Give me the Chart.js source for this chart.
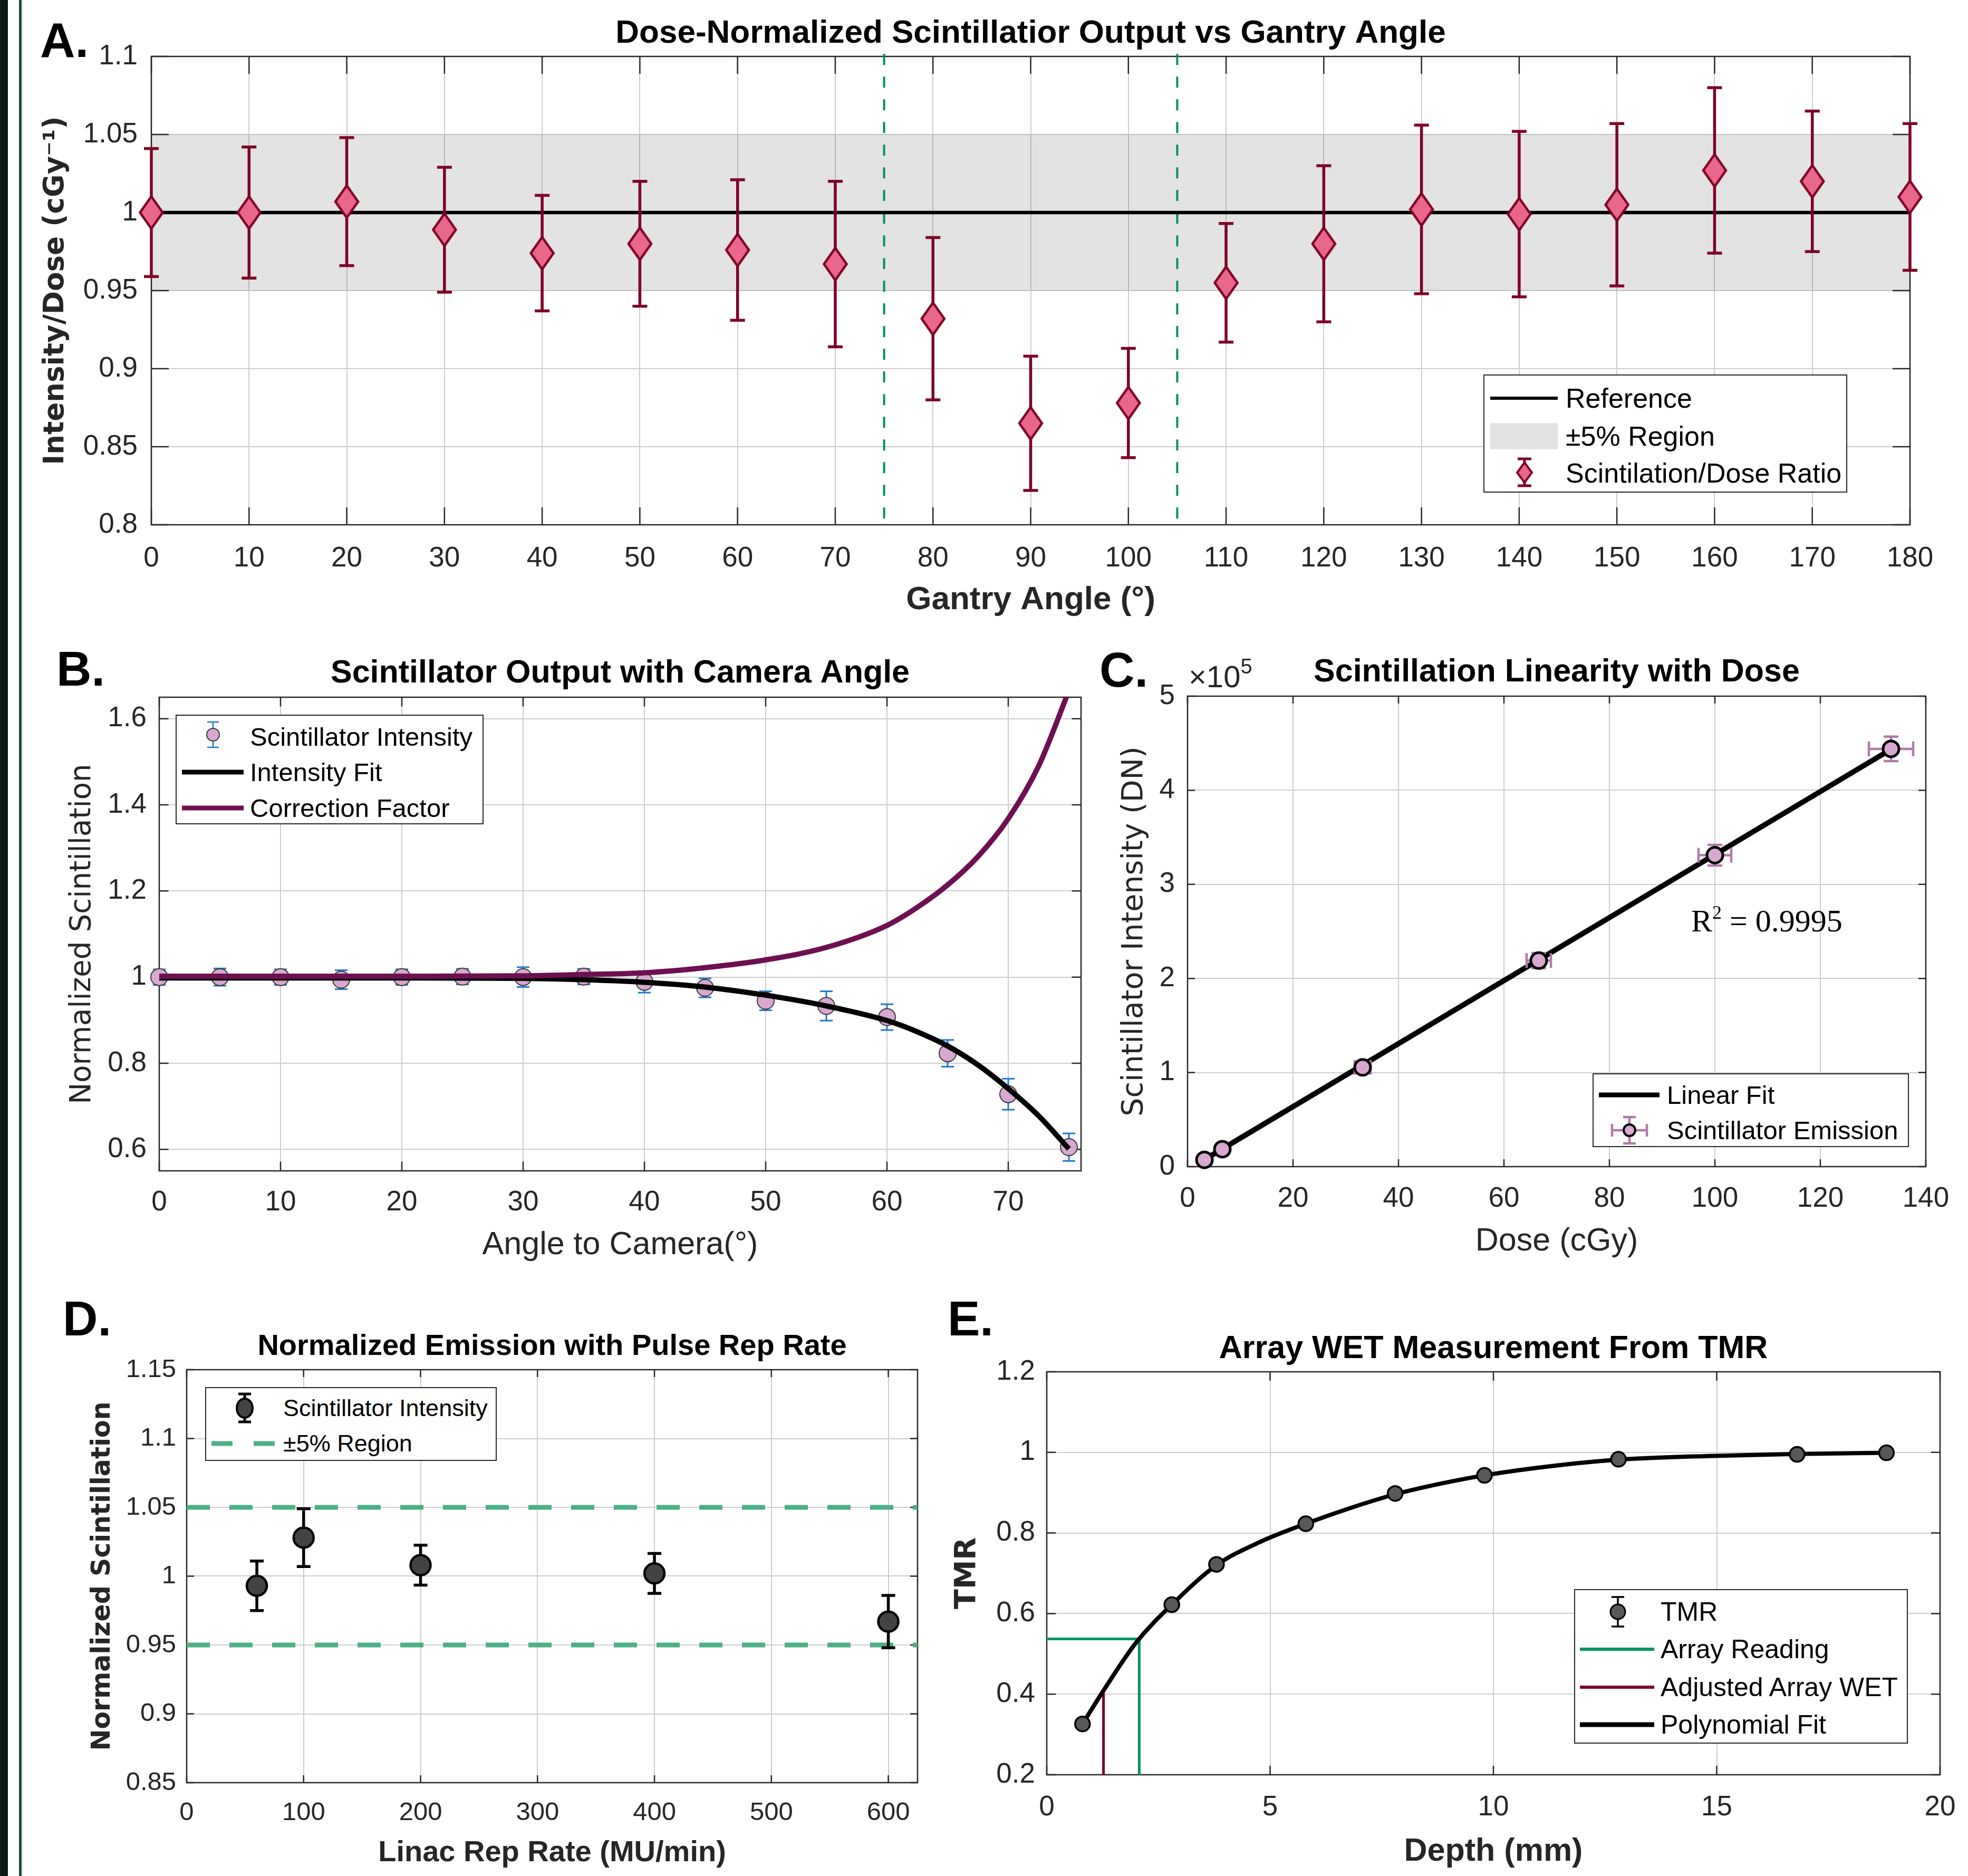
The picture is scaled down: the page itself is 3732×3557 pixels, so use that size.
<!DOCTYPE html>
<html lang="en">
<head>
<meta charset="UTF-8">
<title>Scintillator characterisation figure</title>
<script src="https://cdn.jsdelivr.net/npm/chart.js"></script>
<style>
  body { margin: 0; background: #fff; }
  #fig { position: relative; width: 3732px; height: 3557px; overflow: hidden; background: #fff; font-family: 'Liberation Sans', Arial, sans-serif; }
  #fig canvas { position: absolute; }
  .edge { position: absolute; top: 0; height: 3557px; }
  .tag { position: absolute; font: bold 92px/1 'Liberation Sans', Arial, sans-serif; color: #000; }
  .lgd { position: absolute; border: 2px solid #262626; background: #fff; box-sizing: border-box; }
  .lgd span { position: absolute; white-space: nowrap; color: #000; }
  .lgd svg { position: absolute; left: -2px; top: -2px; overflow: visible; }
  .note { position: absolute; white-space: nowrap; }
</style>
</head>
<body>
<div id="fig">
  <div class="edge" style="left:0;width:15px;background:#0d1f14"></div>
  <div class="edge" style="left:36px;width:5px;background:#1f4f33"></div>
</div>

<script>
// ---------- A: dose-normalised output vs gantry angle ----------
const gantryAngle = [0, 10, 20, 30, 40, 50, 60, 70, 80, 90, 100, 110, 120, 130, 140, 150, 160, 170, 180];
const doseRatio = [1.000, 1.000, 1.007, 0.989, 0.974, 0.980, 0.976, 0.967, 0.932, 0.865, 0.878, 0.955, 0.980, 1.002, 0.999, 1.005, 1.027, 1.020, 1.010];
const doseRatioErr = [0.041, 0.042, 0.041, 0.040, 0.037, 0.040, 0.045, 0.053, 0.052, 0.043, 0.035, 0.038, 0.050, 0.054, 0.053, 0.052, 0.053, 0.045, 0.047];
const gantryRange = [0, 180];
const referenceLevel = [1, 1];
const bandUpper = [1.05, 1.05];
const bandLower = [0.95, 0.95];
const cutoffAngles = [75, 105];
const cutoffSpan = [0.804, 1.104];

// ---------- B: output vs camera angle ----------
const cameraAngle = [0, 5, 10, 15, 20, 25, 30, 35, 40, 45, 50, 55, 60, 65, 70, 75];
const scintIntensity = [1.000, 1.000, 1.000, 0.994, 1.000, 1.001, 1.000, 1.001, 0.989, 0.975, 0.945, 0.933, 0.907, 0.823, 0.728, 0.605];
const scintErr = [0.018, 0.020, 0.018, 0.022, 0.018, 0.018, 0.023, 0.018, 0.025, 0.022, 0.022, 0.034, 0.030, 0.031, 0.036, 0.032];
const fitAngle = [0, 10, 20, 30, 35, 40, 45, 50, 55, 60, 62.5, 65, 67.5, 70, 72.5, 75];
const intensityFit = [0.998, 0.998, 0.998, 0.997, 0.994, 0.988, 0.977, 0.958, 0.933, 0.899, 0.873, 0.840, 0.796, 0.741, 0.678, 0.601];
const correctionFactor = [1.002, 1.002, 1.002, 1.003, 1.006, 1.010, 1.022, 1.040, 1.069, 1.120, 1.162, 1.214, 1.280, 1.368, 1.490, 1.665];

// ---------- C: linearity with dose ----------
const doseCGy = [3.2, 6.6, 33.2, 66.6, 100, 133.4];
const emission = [7200, 18500, 105500, 219000, 331000, 444000];
const emissionErr = [3000, 4000, 6000, 8000, 11000, 13000];
const doseErr = [0.8, 1.0, 1.5, 2.3, 3.1, 4.2];
const fitDose = [3.2, 133.4];
const fitEmission = [7500, 443500];

// ---------- D: pulse repetition rate ----------
const repRate = [60, 100, 200, 400, 600];
const repEmission = [0.993, 1.028, 1.008, 1.002, 0.967];
const repErr = [0.018, 0.021, 0.0145, 0.0145, 0.019];
const repRange = [0, 625];
const repUpper = [1.05, 1.05];
const repLower = [0.95, 0.95];

// ---------- E: WET from TMR ----------
const depthMM = [0.8, 2.8, 3.8, 5.8, 7.8, 9.8, 12.8, 16.8, 18.8];
const tmr = [0.326, 0.622, 0.722, 0.823, 0.898, 0.943, 0.983, 0.995, 0.999];
const tmrErr = [0.008, 0.008, 0.008, 0.008, 0.008, 0.008, 0.008, 0.008, 0.008];
const fitDepth = [0.8, 1.3, 2.0, 2.8, 3.8, 4.8, 5.8, 6.8, 7.8, 8.8, 9.8, 11.3, 12.8, 14.8, 16.8, 18.8];
const tmrFit = [0.326, 0.414, 0.528, 0.622, 0.720, 0.779, 0.823, 0.862, 0.896, 0.922, 0.943, 0.966, 0.982, 0.991, 0.996, 0.999];
const readingX = [0, 2.07, 2.07];
const readingY = [0.537, 0.537, 0.2];
const adjustedX = [1.27, 1.27];
const adjustedY = [0.2, 0.411];

const SANS = "'Liberation Sans', Arial, sans-serif";
const WIDE = "'DejaVu Sans', Verdana, sans-serif";
const INK = '#262626';
const fig = document.getElementById('fig');

const pts = (xs, ys) => xs.map((x, i) => ({x: x, y: ys[i]}));

function diamond(w, h, lw) {
  const c = document.createElement('canvas');
  c.width = w; c.height = h;
  const g = c.getContext('2d');
  const m = lw + 1;
  g.beginPath();
  g.moveTo(w / 2, m); g.lineTo(w - m, h / 2); g.lineTo(w / 2, h - m); g.lineTo(m, h / 2);
  g.closePath();
  g.fillStyle = '#e8678b'; g.fill();
  g.lineWidth = lw; g.strokeStyle = '#7e0024'; g.stroke();
  return c;
}

// vertical / horizontal error bars, drawn under each dataset's markers
const errorBars = {
  id: 'errorBars',
  beforeDatasetDraw(chart, args) {
    const ds = chart.data.datasets[args.index];
    if (!ds.errY && !ds.errX) return;
    const ctx = chart.ctx, xs = chart.scales.x, ys = chart.scales.y, cap = ds.errCap;
    const seg = (a, b, c, d) => { ctx.beginPath(); ctx.moveTo(a, b); ctx.lineTo(c, d); ctx.stroke(); };
    ctx.save();
    ctx.strokeStyle = ds.errColor; ctx.lineWidth = ds.errWidth;
    ds.data.forEach((p, i) => {
      const px = xs.getPixelForValue(p.x), py = ys.getPixelForValue(p.y);
      if (ds.errY) {
        const t = ys.getPixelForValue(p.y + ds.errY[i]), b = ys.getPixelForValue(p.y - ds.errY[i]);
        seg(px, t, px, b); seg(px - cap, t, px + cap, t); seg(px - cap, b, px + cap, b);
      }
      if (ds.errX) {
        const l = xs.getPixelForValue(p.x - ds.errX[i]), r = xs.getPixelForValue(p.x + ds.errX[i]);
        seg(l, py, r, py); seg(l, py - cap, l, py + cap); seg(r, py - cap, r, py + cap);
      }
    });
    ctx.restore();
  }
};

// matlab style box with inward ticks on all four sides
const axesBox = {
  id: 'axesBox',
  beforeDatasetsDraw(chart, args, opts) {
    const ctx = chart.ctx, a = chart.chartArea, xs = chart.scales.x, ys = chart.scales.y;
    const tl = opts.tick || 15;
    ctx.save();
    ctx.strokeStyle = INK; ctx.lineWidth = 2.5;
    ctx.strokeRect(a.left, a.top, a.right - a.left, a.bottom - a.top);
    ctx.beginPath();
    xs.ticks.forEach(t => {
      const x = xs.getPixelForValue(t.value);
      ctx.moveTo(x, a.bottom); ctx.lineTo(x, a.bottom - tl);
      ctx.moveTo(x, a.top); ctx.lineTo(x, a.top + tl);
    });
    ys.ticks.forEach(t => {
      const y = ys.getPixelForValue(t.value);
      ctx.moveTo(a.left, y); ctx.lineTo(a.left + tl, y);
      ctx.moveTo(a.right, y); ctx.lineTo(a.right - tl, y);
    });
    ctx.stroke();
    ctx.restore();
  }
};
Chart.register(errorBars, axesBox);

function makePanel(p) {
  const top = Math.round(p.title.cy - 0.6 * p.title.size);
  const bottom = Math.round(p.xTitle.cy + 0.6 * p.xTitle.size);
  const [pl, pt, pr, pb] = p.plot;
  const cv = document.createElement('canvas');
  cv.width = p.right - p.left;
  cv.height = bottom - top;
  cv.style.left = p.left + 'px';
  cv.style.top = top + 'px';
  fig.appendChild(cv);
  const grid = {color: '#cdcdcd', lineWidth: 2, drawTicks: false};
  const tickFont = {family: SANS, size: p.tick.size, lineHeight: 1.2};
  const unit = p.y.unit || 1;
  return new Chart(cv, {
    type: 'scatter',
    data: {datasets: p.datasets},
    options: {
      responsive: false, animation: false, devicePixelRatio: 1,
      layout: {padding: {left: 0, top: 0, bottom: 0, right: p.right - pr}},
      plugins: {
        legend: {display: false},
        tooltip: {enabled: false},
        title: {
          display: true, text: p.title.text, fullSize: false, color: '#000',
          font: {family: SANS, size: p.title.size, weight: 'bold', lineHeight: 1.2},
          padding: {top: 0, bottom: pt - top - 1.2 * p.title.size}
        },
        axesBox: {tick: p.tickLen}
      },
      scales: {
        x: {
          type: 'linear', min: p.x.min, max: p.x.max,
          afterFit: s => { s.height = bottom - pb; },
          grid: grid, border: {display: false},
          ticks: {
            stepSize: p.x.step, includeBounds: false, autoSkip: false, maxRotation: 0,
            padding: p.tick.xCY - pb - 0.6 * p.tick.size, color: INK, font: tickFont,
            callback: v => String(+v.toFixed(4))
          },
          title: {
            display: true, text: p.xTitle.text, color: INK,
            font: {family: SANS, size: p.xTitle.size, weight: p.xTitle.weight, lineHeight: 1.2},
            padding: {top: 0, bottom: 0}
          }
        },
        y: {
          type: 'linear', min: p.y.min, max: p.y.max,
          afterFit: s => { s.width = pl - p.left; },
          grid: grid, border: {display: false},
          ticks: {
            stepSize: p.y.step, includeBounds: false, autoSkip: false,
            padding: p.tick.yPad, color: INK, font: tickFont,
            callback: v => String(+(v / unit).toFixed(4))
          },
          title: {
            display: true, text: p.yTitle.text, color: INK,
            font: {family: WIDE, size: p.yTitle.size, weight: p.yTitle.weight, lineHeight: 1.2},
            padding: {top: p.yTitle.cx - p.left - 0.6 * p.yTitle.size, bottom: 0}
          }
        }
      }
    }
  });
}

const line = (data, color, width, extra) => Object.assign({
  data: data, showLine: true, borderColor: color, borderWidth: width, pointRadius: 0, fill: false
}, extra || {});

// ---- A ----
makePanel({
  left: 0, right: 3712, plot: [287, 107, 3622, 995],
  title: {text: 'Dose-Normalized Scintillatior Output vs Gantry Angle', size: 62, cy: 64},
  yTitle: {text: 'Intensity/Dose (cGy\u207B\u00B9)', size: 53, weight: 'bold', cx: 106},
  xTitle: {text: 'Gantry Angle (\u00B0)', size: 62, weight: 'bold', cy: 1138},
  tick: {size: 53, yPad: 26, xCY: 1059},
  x: {min: 0, max: 180, step: 10}, y: {min: 0.8, max: 1.1, step: 0.05},
  tickLen: 33,
  datasets: [
    {data: pts(gantryAngle, doseRatio), pointStyle: diamond(54, 72, 4.5), pointRadius: 10, clip: false,
     errY: doseRatioErr, errColor: '#7e0024', errWidth: 5.5, errCap: 14},
    line(pts(gantryRange, referenceLevel), '#000', 6.5),
    line(pts([cutoffAngles[0], cutoffAngles[0]], cutoffSpan), '#00925a', 4, {borderDash: [21, 22], clip: false}),
    line(pts([cutoffAngles[1], cutoffAngles[1]], cutoffSpan), '#00925a', 4, {borderDash: [21, 22], clip: false}),
    line(pts(gantryRange, bandUpper), 'transparent', 1, {fill: '+1', backgroundColor: 'rgba(0,0,0,0.11)'}),
    line(pts(gantryRange, bandLower), 'transparent', 1)
  ]
});

// ---- B ----
makePanel({
  left: 60, right: 2080, plot: [302, 1322, 2050, 2220],
  title: {text: 'Scintillator Output with Camera Angle', size: 61, cy: 1278},
  yTitle: {text: 'Normalized Scintillation', size: 54.5, weight: 'normal', cx: 157},
  xTitle: {text: 'Angle to Camera(\u00B0)', size: 61, weight: 'normal', cy: 2361},
  tick: {size: 53, yPad: 24, xCY: 2280},
  x: {min: 0, max: 76, step: 10}, y: {min: 0.55, max: 1.65, step: 0.2},
  tickLen: 17.5,
  datasets: [
    line(pts(fitAngle, correctionFactor), '#6e0f52', 10, {cubicInterpolationMode: 'monotone', clip: 0}),
    line(pts(fitAngle, intensityFit), '#000', 10, {cubicInterpolationMode: 'monotone', clip: 0}),
    {data: pts(cameraAngle, scintIntensity), pointRadius: 16, pointBackgroundColor: '#d8a8d0',
     pointBorderColor: '#3a3a3a', pointBorderWidth: 2, clip: false,
     errY: scintErr, errColor: '#1f78c8', errWidth: 3, errCap: 12}
  ]
});

// ---- C ----
makePanel({
  left: 2100, right: 3732, plot: [2252, 1320, 3652, 2212],
  title: {text: 'Scintillation Linearity with Dose', size: 61, cy: 1276},
  yTitle: {text: 'Scintillator Intensity (DN)', size: 55.5, weight: 'normal', cx: 2152},
  xTitle: {text: 'Dose (cGy)', size: 61, weight: 'normal', cy: 2354},
  tick: {size: 53, yPad: 24, xCY: 2273},
  x: {min: 0, max: 140, step: 20}, y: {min: 0, max: 500000, step: 100000, unit: 100000},
  tickLen: 14,
  datasets: [
    {data: pts(doseCGy, emission), pointRadius: 15, pointBackgroundColor: '#d8a8d0',
     pointBorderColor: '#000', pointBorderWidth: 5, clip: false,
     errY: emissionErr, errX: doseErr, errColor: '#b07aa8', errWidth: 4.5, errCap: 14},
    line(pts(fitDose, fitEmission), '#000', 10)
  ]
});

// ---- D ----
makePanel({
  left: 120, right: 1800, plot: [354, 2597, 1740, 3380],
  title: {text: 'Normalized Emission with Pulse Rep Rate', size: 56, cy: 2554},
  yTitle: {text: 'Normalized Scintillation', size: 49, weight: 'bold', cx: 195},
  xTitle: {text: 'Linac Rep Rate (MU/min)', size: 56, weight: 'bold', cy: 3513},
  tick: {size: 49, yPad: 20, xCY: 3437},
  x: {min: 0, max: 625, step: 100}, y: {min: 0.85, max: 1.15, step: 0.05},
  tickLen: 14,
  datasets: [
    {data: pts(repRate, repEmission), pointRadius: 19, pointBackgroundColor: '#434343',
     pointBorderColor: '#000', pointBorderWidth: 4.5, clip: false,
     errY: repErr, errColor: '#000', errWidth: 5.5, errCap: 13},
    line(pts(repRange, repUpper), '#4daf86', 9, {borderDash: [44, 37]}),
    line(pts(repRange, repLower), '#4daf86', 9, {borderDash: [44, 37]})
  ]
});

// ---- E ----
makePanel({
  left: 1780, right: 3760, plot: [1985, 2601, 3679, 3365],
  title: {text: 'Array WET Measurement From TMR', size: 61, cy: 2559},
  yTitle: {text: 'TMR', size: 55.6, weight: 'bold', cx: 1835},
  xTitle: {text: 'Depth (mm)', size: 61, weight: 'bold', cy: 3511},
  tick: {size: 53, yPad: 22, xCY: 3427},
  x: {min: 0, max: 20, step: 5}, y: {min: 0.2, max: 1.2, step: 0.2},
  tickLen: 17,
  datasets: [
    {data: pts(depthMM, tmr), pointRadius: 14, pointBackgroundColor: '#585858',
     pointBorderColor: '#000', pointBorderWidth: 3.5, clip: false,
     errY: tmrErr, errColor: '#000', errWidth: 3, errCap: 8},
    line(pts(fitDepth, tmrFit), '#000', 8, {cubicInterpolationMode: 'monotone'}),
    line(pts(readingX, readingY), '#00945c', 5),
    line(pts(adjustedX, adjustedY), '#7e0024', 5)
  ]
});

// ---------- legends, panel tags, annotations ----------
function addLegend(L) {
  const box = document.createElement('div');
  box.className = 'lgd';
  box.style.cssText = `left:${L.left}px;top:${L.top}px;width:${L.w}px;height:${L.h}px;font-size:${L.font}px;`;
  box.innerHTML = `<svg width="${L.w}" height="${L.h}" xmlns="http://www.w3.org/2000/svg">${L.icons}</svg>` +
    L.rows.map(r => `<span style="left:${L.textX - 2}px;top:${r[0] - 2 - 0.6 * L.font}px;line-height:${1.2 * L.font}px">${r[1]}</span>`).join('');
  fig.appendChild(box);
}

addLegend({left: 2813, top: 710, w: 690, h: 224, font: 52, textX: 156,
  rows: [[45, 'Reference'], [117, '\u00B15% Region'], [187, 'Scintilation/Dose Ratio']],
  icons: '<line x1="13" y1="45" x2="141" y2="45" stroke="#000" stroke-width="6"/>' +
    '<rect x="13" y="92" width="128" height="50" fill="#e3e3e3"/>' +
    '<g stroke="#7e0024" stroke-width="5"><line x1="78" y1="160" x2="78" y2="211"/><line x1="65" y1="160" x2="91" y2="160"/><line x1="65" y1="211" x2="91" y2="211"/></g>' +
    '<path d="M78 167 L92 186 L78 205 L64 186 Z" fill="#e8678b" stroke="#7e0024" stroke-width="4"/>'
});

addLegend({left: 333, top: 1355, w: 584, h: 208, font: 49, textX: 141,
  rows: [[42, 'Scintillator Intensity'], [109, 'Intensity Fit'], [177, 'Correction Factor']],
  icons: '<g stroke="#1f78c8" stroke-width="2.5"><line x1="71" y1="14" x2="71" y2="62"/><line x1="60" y1="14" x2="82" y2="14"/><line x1="60" y1="62" x2="82" y2="62"/></g>' +
    '<circle cx="71" cy="38" r="12" fill="#d8a8d0" stroke="#3a3a3a" stroke-width="2"/>' +
    '<line x1="12" y1="109" x2="129" y2="109" stroke="#000" stroke-width="9"/>' +
    '<line x1="12" y1="177" x2="129" y2="177" stroke="#6e0f52" stroke-width="9"/>'
});

addLegend({left: 3020, top: 2035, w: 600, h: 140, font: 49, textX: 141,
  rows: [[41, 'Linear Fit'], [108, 'Scintillator Emission']],
  icons: '<line x1="12" y1="41" x2="127" y2="41" stroke="#000" stroke-width="9"/>' +
    '<g stroke="#b07aa8" stroke-width="4.5"><line x1="37" y1="108" x2="103" y2="108"/><line x1="37" y1="96" x2="37" y2="120"/><line x1="103" y1="96" x2="103" y2="120"/>' +
    '<line x1="70" y1="83" x2="70" y2="133"/><line x1="58" y1="83" x2="82" y2="83"/><line x1="58" y1="133" x2="82" y2="133"/></g>' +
    '<circle cx="70" cy="108" r="11" fill="#d8a8d0" stroke="#000" stroke-width="4"/>'
});

addLegend({left: 389, top: 2630, w: 553, h: 140, font: 45, textX: 148,
  rows: [[40, 'Scintillator Intensity'], [107, '\u00B15% Region']],
  icons: '<g stroke="#000" stroke-width="5"><line x1="75" y1="13" x2="75" y2="66"/><line x1="63" y1="13" x2="87" y2="13"/><line x1="63" y1="66" x2="87" y2="66"/></g>' +
    '<ellipse cx="75" cy="40" rx="15" ry="18" fill="#434343" stroke="#000" stroke-width="4"/>' +
    '<line x1="12" y1="107" x2="132" y2="107" stroke="#4daf86" stroke-width="9" stroke-dasharray="40 40"/>'
});

addLegend({left: 2985, top: 3013, w: 633, h: 293, font: 50, textX: 164,
  rows: [[43, 'TMR'], [114, 'Array Reading'], [186, 'Adjusted Array WET'], [257, 'Polynomial Fit']],
  icons: '<g stroke="#000" stroke-width="3.5"><line x1="83" y1="15" x2="83" y2="71"/><line x1="71" y1="15" x2="95" y2="15"/><line x1="71" y1="71" x2="95" y2="71"/></g>' +
    '<circle cx="83" cy="43" r="14" fill="#585858" stroke="#000" stroke-width="3"/>' +
    '<line x1="11" y1="114" x2="152" y2="114" stroke="#00945c" stroke-width="6"/>' +
    '<line x1="11" y1="186" x2="152" y2="186" stroke="#7e0024" stroke-width="6"/>' +
    '<line x1="11" y1="257" x2="152" y2="257" stroke="#000" stroke-width="9"/>'
});

[['A.', 76, 42], ['B.', 107, 1234], ['C.', 2085, 1236], ['D.', 119, 2466], ['E.', 1797, 2466]].forEach(t => {
  const d = document.createElement('div');
  d.className = 'tag';
  d.textContent = t[0];
  d.style.left = t[1] + 'px';
  d.style.top = (t[2] - 12) + 'px';
  fig.appendChild(d);
});

const exp = document.createElement('div');
exp.className = 'note';
exp.style.cssText = `left:2254px;top:1254px;font:58px/1 ${SANS};color:${INK}`;
exp.innerHTML = '\u00D710<span style="font-size:40px;position:relative;top:-26px">5</span>';
fig.appendChild(exp);

const r2 = document.createElement('div');
r2.className = 'note';
r2.style.cssText = "left:3207px;top:1716px;font:60px/1 'Liberation Serif','Times New Roman',serif;color:#000";
r2.innerHTML = 'R<span style="font-size:36px;position:relative;top:-24px">2</span> = 0.9995';
fig.appendChild(r2);
</script>
</body>
</html>
